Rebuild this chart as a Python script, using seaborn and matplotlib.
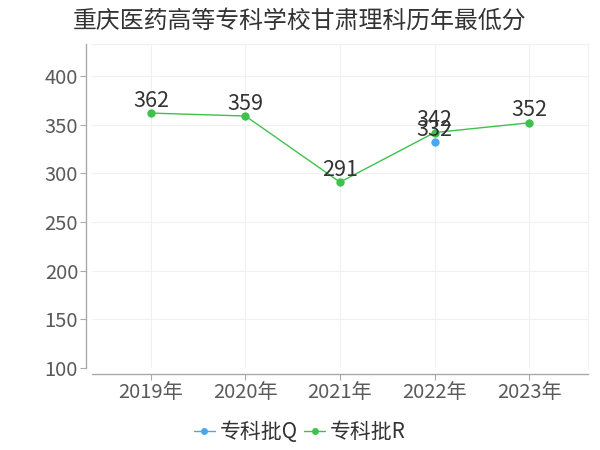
import pandas as pd
import matplotlib
matplotlib.use('Agg')
import matplotlib.pyplot as plt
import seaborn as sns

# chart data
years = ['2019年', '2020年', '2021年', '2022年', '2023年']
scores_r = [362, 359, 291, 342, 352]
years_q = ['2022年']
scores_q = [332]
title = '重庆医药高等专科学校甘肃理科历年最低分'

df = pd.concat([
    pd.DataFrame({'year': years_q, 'score': scores_q, 'batch': '专科批Q'}),
    pd.DataFrame({'year': years, 'score': scores_r, 'batch': '专科批R'}),
])
df['x'] = df['year'].map({y: i for i, y in enumerate(years)})

sns.set_theme(style='white')
plt.rcParams['font.family'] = ['Noto Sans CJK SC', 'DejaVu Sans']

palette = {'专科批Q': '#4ba6ef', '专科批R': '#3fc14d'}

fig = plt.figure(figsize=(6, 4.5), dpi=100)
ax = fig.add_axes([0.1533, 0.1822, 0.8267, 0.72])

sns.lineplot(data=df, x='x', y='score', hue='batch', palette=palette,
             marker='o', markersize=6, markeredgewidth=0, linewidth=1,
             ax=ax, legend=False)

# value labels
for _, row in df.iterrows():
    ax.annotate(str(row['score']), (row['x'], row['score']),
                xytext=(0, 1), textcoords='offset points',
                ha='center', va='bottom', fontsize=15.5, color='#333333')

ax.set_xlim(-0.624, 4.624)
ax.set_ylim(100, 433)
ax.set_yticks(range(100, 401, 50))
ax.set_xticks(range(len(years)))
ax.set_xticklabels(years)
ax.set_xlabel('')
ax.set_ylabel('')
ax.tick_params(axis='both', labelsize=14.5, colors='#5a5a5a', length=4,
               width=0.8, color='#aaaaaa', pad=2, left=True, bottom=True)
for lbl in ax.get_xticklabels() + ax.get_yticklabels():
    lbl.set_color('#5a5a5a')

ax.grid(True, color='#f0f0f0', linewidth=0.8)
for side in ['left', 'bottom']:
    ax.spines[side].set_color('#aaaaaa')
    ax.spines[side].set_linewidth(1)
    ax.spines[side].set_position(('outward', 4))
for side in ['top', 'right']:
    ax.spines[side].set_color('#f0f0f0')
    ax.spines[side].set_linewidth(0.8)

fig.text(0.5, 0.953, title, ha='center', va='center', fontsize=17.2,
         color='#333333')

handles = [plt.Line2D([], [], color=palette[b], marker='o', markersize=5,
                      markeredgewidth=0, linewidth=1) for b in palette]
fig.legend(handles, list(palette), loc='center', bbox_to_anchor=(0.5, 0.039),
           ncol=2, frameon=False, fontsize=15, handlelength=1.0,
           handletextpad=0.25, columnspacing=0.3, labelcolor='#333333')

fig.savefig('out.png', dpi=100)
plt.close(fig)
